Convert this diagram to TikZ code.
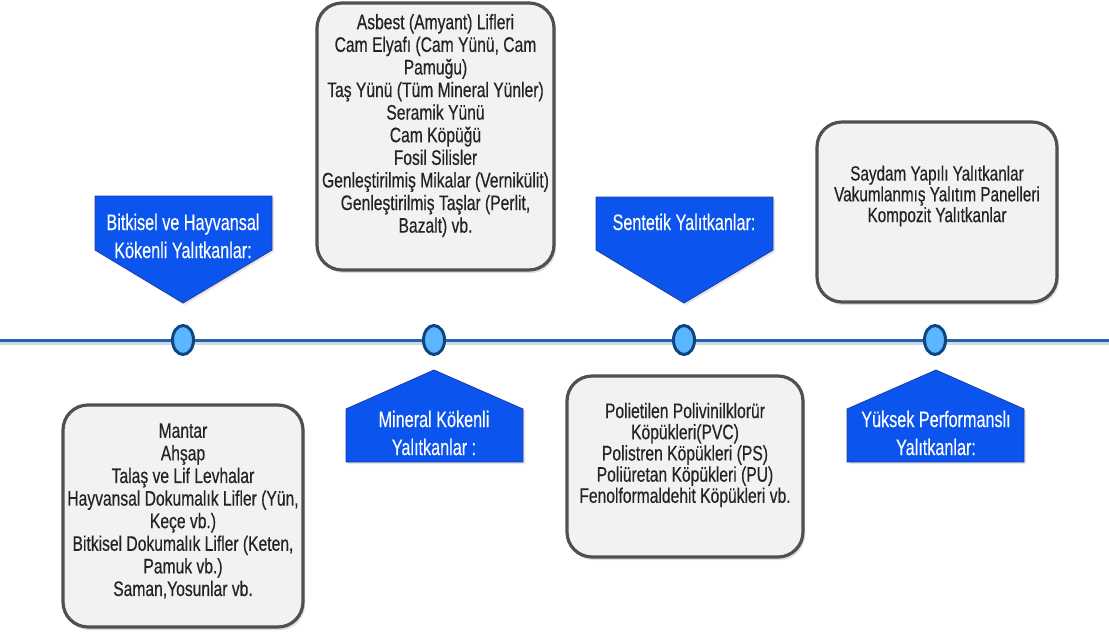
\documentclass[tikz,border=0pt]{standalone}
\usepackage{fontspec}
\setmainfont{Liberation Sans}
\newfontfamily\boxfont{Liberation Sans}[FakeStretch=0.745, FakeBold=0.4]
\newfontfamily\flagfont{Liberation Sans}[FakeStretch=0.72, FakeBold=0.2]
\usetikzlibrary{shapes.geometric,shadows}

\definecolor{flagblue}{RGB}{12,84,238}
\definecolor{flagedge}{RGB}{30,62,170}
\definecolor{boxfill}{RGB}{242,242,242}
\definecolor{boxedge}{RGB}{80,80,80}
\definecolor{boxtextc}{RGB}{35,35,35}
\definecolor{dotfill}{RGB}{92,182,255}
\definecolor{dotedge}{RGB}{14,70,130}
\definecolor{lineblue}{RGB}{38,98,170}
\definecolor{lineshade}{RGB}{205,215,232}

\begin{document}
\begin{tikzpicture}[x=1pt, y=-1pt,
    graybox/.style={draw=boxedge, line width=3.2pt, fill=boxfill, rounded corners=25pt,
        drop shadow={shadow xshift=2pt, shadow yshift=-3pt, opacity=0.25}},
    boxtext/.style={align=center, text=boxtextc, inner sep=0pt,
        font=\boxfont\fontsize{21}{22.6}\selectfont},
    flag/.style={fill=flagblue, draw=flagedge, line width=0.8pt,
        drop shadow={shadow xshift=2pt, shadow yshift=-2pt, opacity=0.2}},
    flagtext/.style={align=center, text=white, inner sep=0pt,
        font=\flagfont\fontsize{22.5}{28}\selectfont},
    dot/.style={ellipse, draw=dotedge, fill=dotfill, line width=3pt,
        minimum width=21pt, minimum height=29pt, inner sep=0pt}]
    \useasboundingbox (0,0) rectangle (1109,635);

    % timeline
    \coordinate (lstart) at (0,340);
    \coordinate (lend) at (1109,340);
    \draw[lineshade, line width=4pt, transform canvas={yshift=-3pt}] (lstart) -- (lend);
    \draw[lineblue, line width=3pt] (lstart) -- (lend);

    \node[dot] (d1) at (183,340) {};
    \node[dot] (d2) at (434,340) {};
    \node[dot] (d3) at (684,340) {};
    \node[dot] (d4) at (935,340) {};

    % flags
    \path[flag] (95,196) -- (272,196) -- (272,250) -- (183,303) -- (95,250) -- cycle;
    \node[flagtext] (bitkisel) at (183,236) {Bitkisel ve Hayvansal\\Kökenli Yalıtkanlar:};

    \path[flag] (596,197) -- (773,197) -- (773,250) -- (684,303) -- (596,250) -- cycle;
    \node[flagtext] (sentetik) at (684,222) {Sentetik Yalıtkanlar:};

    \path[flag] (434,370) -- (523,409) -- (523,462) -- (346,462) -- (346,409) -- cycle;
    \node[flagtext] (mineral) at (434,433) {Mineral Kökenli\\Yalıtkanlar :};

    \path[flag] (936,370) -- (1024,409) -- (1024,462) -- (847,462) -- (847,409) -- cycle;
    \node[flagtext] (yuksek) at (936,433) {Yüksek Performanslı\\Yalıtkanlar:};

    % boxes
    \node[graybox, minimum width=240, minimum height=222] (b1) at (183,516) {};
    \node[boxtext] (t1) at (183,511) {Mantar\\Ahşap\\Talaş ve Lif Levhalar\\Hayvansal Dokumalık Lifler (Yün,\\Keçe vb.)\\Bitkisel Dokumalık Lifler (Keten,\\Pamuk vb.)\\Saman,Yosunlar vb.};

    \node[graybox, minimum width=237, minimum height=267] (b2) at (435.5,136.5) {};
    \node[boxtext] (t2) at (435.5,125.5) {Asbest (Amyant) Lifleri\\Cam Elyafı (Cam Yünü, Cam\\Pamuğu)\\Taş Yünü (Tüm Mineral Yünler)\\Seramik Yünü\\Cam Köpüğü\\Fosil Silisler\\Genleştirilmiş Mikalar (Vernikülit)\\Genleştirilmiş Taşlar (Perlit,\\Bazalt) vb.};

    \node[graybox, minimum width=236, minimum height=181] (b3) at (685,466.5) {};
    \node[boxtext, font=\boxfont\fontsize{21}{21.2}\selectfont] (t3) at (685,455) {Polietilen Polivinilklorür\\Köpükleri(PVC)\\Polistren Köpükleri (PS)\\Poliüretan Köpükleri (PU)\\Fenolformaldehit Köpükleri vb.};

    \node[graybox, minimum width=240, minimum height=180] (b4) at (937,212) {};
    \node[boxtext, font=\boxfont\fontsize{20.5}{20.8}\selectfont] (t4) at (937,196) {Saydam Yapılı Yalıtkanlar\\Vakumlanmış Yalıtım Panelleri\\Kompozit Yalıtkanlar};
\end{tikzpicture}
\end{document}
